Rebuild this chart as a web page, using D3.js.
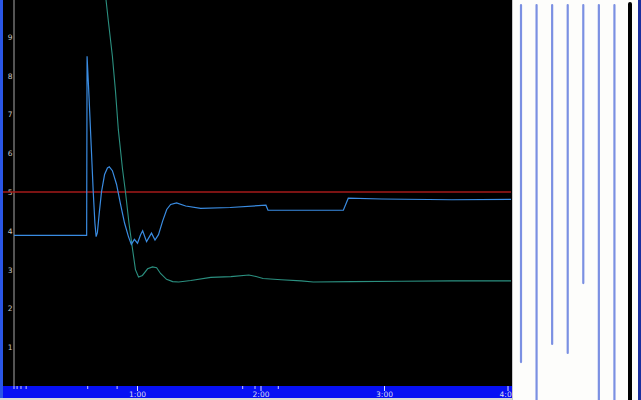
<!DOCTYPE html>
<html>
<head>
<meta charset="utf-8">
<script src="https://cdn.jsdelivr.net/npm/d3@7"></script>
<style>
  body { margin: 0; background: #fff; }
  svg { display: block; font-family: "DejaVu Sans", sans-serif; }
</style>
</head>
<body>
<svg id="chart" width="641" height="400"></svg>
<script>
// trace 1 (blue) : [seconds, value]
const blueSeries = [
  [0,3.88],[35.3,3.88],[35.5,8.5],[36.5,7.4],[37.5,6.2],[38.5,5.0],[39.3,4.2],[39.9,3.85],
  [40.5,3.95],[41.5,4.5],[42.5,5.0],[44,5.45],[45.4,5.62],[46.3,5.65],[47.8,5.55],[49.8,5.2],
  [51.7,4.7],[53.7,4.2],[55.6,3.85],[57,3.65],[58.5,3.78],[60,3.68],[61.5,3.9],[62.5,4.0],
  [64.4,3.72],[66.8,3.94],[68.5,3.76],[70.2,3.9],[72.2,4.25],[74.2,4.55],[76.1,4.68],[79,4.72],
  [83.4,4.64],[90.7,4.58],[105,4.6],[122.4,4.66],[123.4,4.53],[160,4.53],[162.4,4.84],
  [178.5,4.82],[212.7,4.8],[243,4.81]
]
// trace 2 (teal)
const tealSeries = [
  [42.9,10.7],[44.4,10.1],[45.85,9.4],[47.8,8.5],[49.3,7.6],[50.7,6.6],[52.7,5.6],[54.15,5.0],
  [55.85,4.2],[57.4,3.6],[59,3.0],[60.5,2.81],
  [62.4,2.85],[64.9,3.02],[67.3,3.07],[69.3,3.05],[71.2,2.9],[74.1,2.75],[77.1,2.69],[80,2.68],
  [85.9,2.72],[95.6,2.8],[105.4,2.82],[114.1,2.86],[117.6,2.82],[121,2.77],[129.8,2.74],
  [139.5,2.71],[145.4,2.68],[163.9,2.69],[188.3,2.7],[212.7,2.71],[243,2.71]
]
const limitValue = 5
const yTicks = [1,2,3,4,5,6,7,8,9]
const xTicks = [60,120,180,240]
const xTickLabels = ['1:00','2:00','3:00','4:00']
const eventTimes = [0,1.5,3.4,5.9,35.8,50.1,111.1,117.1,128.4]
// side meters, fraction of full height
const meterLevels = [0.904,1,0.858,0.881,0.704,1,1]

const svg = d3.select('#chart')

const x = d3.scaleLinear().domain([0,240]).range([14,508])
const y = d3.scaleLinear().domain([0,10]).range([386,-2])

// backgrounds
svg.append('rect').attr('x',0).attr('y',0).attr('width',512).attr('height',400).attr('fill','black')
svg.append('rect').attr('x',0).attr('y',0).attr('width',3).attr('height',400).attr('fill','#2a56e6')
svg.append('rect').attr('x',3).attr('y',386).attr('width',509).attr('height',12).attr('fill','#0610f4')
svg.append('rect').attr('x',0).attr('y',398).attr('width',512).attr('height',2).attr('fill','#d8d8d8')

svg.append('defs').append('clipPath').attr('id','plot')
  .append('rect').attr('x',3).attr('y',0).attr('width',508).attr('height',386)

// y axis
svg.append('line').attr('x1',14).attr('x2',14).attr('y1',0).attr('y2',386)
  .attr('stroke','#a8a8a8').attr('stroke-width',1)

svg.selectAll('.ylab')
  .data(yTicks)
  .join('text')
  .attr('class','ylab')
  .attr('x',12.5)
  .attr('y',d => y(d)+3)
  .attr('text-anchor','end')
  .attr('font-size',7.5)
  .attr('fill','#c4c4c4')
  .text(d => d)

const plot = svg.append('g').attr('clip-path','url(#plot)')

plot.append('line')
  .attr('x1',3).attr('x2',511)
  .attr('y1',y(limitValue)).attr('y2',y(limitValue))
  .attr('stroke','#a41a1a').attr('stroke-width',1.6)

const line = d3.line().x(d => x(d[0])).y(d => y(d[1]))

plot.append('path').datum(tealSeries)
  .attr('d',line).attr('fill','none')
  .attr('stroke','#2b9080').attr('stroke-width',1.1)

plot.append('path').datum(blueSeries)
  .attr('d',line).attr('fill','none')
  .attr('stroke','#3a8ce2').attr('stroke-width',1.2)

// bottom time bar
const bar = svg.append('g')
bar.selectAll('.ev')
  .data(eventTimes)
  .join('line')
  .attr('x1',d => x(d)).attr('x2',d => x(d))
  .attr('y1',386).attr('y2',389)
  .attr('stroke','#c8c8ff').attr('stroke-width',1)

bar.selectAll('.tk')
  .data(xTicks)
  .join('line')
  .attr('x1',d => x(d)).attr('x2',d => x(d))
  .attr('y1',386).attr('y2',391)
  .attr('stroke','#e0e0ff').attr('stroke-width',1)

svg.append('clipPath').attr('id','barclip')
  .append('rect').attr('x',3).attr('y',386).attr('width',509).attr('height',12)

bar.append('g').attr('clip-path','url(#barclip)')
  .selectAll('text')
  .data(xTicks)
  .join('text')
  .attr('x',d => x(d))
  .attr('y',397)
  .attr('text-anchor','middle')
  .attr('font-size',7.5)
  .attr('fill','#dcdcf0')
  .text((d,i) => xTickLabels[i])

// right meter panel
svg.append('rect').attr('x',512).attr('y',0).attr('width',126).attr('height',400).attr('fill','#fdfdfb')
svg.append('line').attr('x1',512.5).attr('x2',512.5).attr('y1',0).attr('y2',400).attr('stroke','#c8c8c8')
svg.append('rect').attr('x',638).attr('y',0).attr('width',3).attr('height',400).attr('fill','#1c2f9e')

const mx = d3.scaleLinear().domain([0,7]).range([521,630])
const my = d3.scaleLinear().domain([0,1]).range([5,400])

svg.selectAll('.meter')
  .data(meterLevels)
  .join('line')
  .attr('class','meter')
  .attr('x1',(d,i) => mx(i)).attr('x2',(d,i) => mx(i))
  .attr('y1',my(0)).attr('y2',d => my(d))
  .attr('stroke','#7b90e2').attr('stroke-width',2.2)
  .attr('stroke-linecap','round')

svg.append('line')
  .attr('x1',mx(7)).attr('x2',mx(7))
  .attr('y1',my(0)-1).attr('y2',my(1))
  .attr('stroke','black').attr('stroke-width',4)
  .attr('stroke-linecap','round')
</script>
</body>
</html>
